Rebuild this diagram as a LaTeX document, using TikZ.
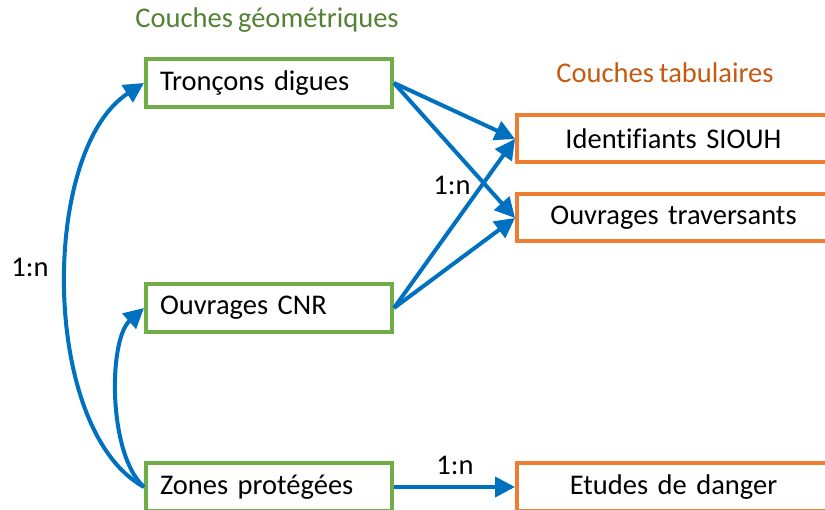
\documentclass[tikz,border=0pt]{standalone}
\usepackage{fontspec}
\setmainfont{Carlito}[Ligatures={NoCommon},WordSpace={0.8}]
\usetikzlibrary{calc,shapes,arrows.meta}
\definecolor{geogreen}{HTML}{70AD47}
\definecolor{geotitle}{HTML}{548235}
\definecolor{taborange}{HTML}{ED7D31}
\definecolor{tabtitle}{HTML}{C55A11}
\definecolor{linkblue}{HTML}{0070C0}

\begin{document}
\begin{tikzpicture}[x=1pt,y=-1pt,
  every node/.style={font=\fontsize{28.5}{33}\selectfont},
  geobox/.style={draw=geogreen,line width=4pt,minimum width=246pt,minimum height=48pt,
    inner xsep=13pt,text width=218pt,align=left},
  tabbox/.style={draw=taborange,line width=4pt,minimum width=313pt,minimum height=47pt,
    text width=285pt,align=center},
  link/.style={draw=linkblue,line width=4pt,-{Triangle[length=20pt,width=20pt]}}]
\useasboundingbox (0,0) rectangle (825,510);
% titres
\node[text=geotitle] (geotitle) at (267,20) {Couches géométriques};
\node[text=tabtitle] (tabtitle) at (665,73) {Couches tabulaires};
% couches geometriques
\node[geobox] (troncons) at (269,83) {Tronçons digues};
\node[geobox] (ouvcnr) at (269,308) {Ouvrages CNR};
\node[geobox] (zones) at (269,487) {Zones protégées};
% couches tabulaires
\node[tabbox] (siouh) at (673.5,139) {Identifiants SIOUH};
\node[tabbox] (traversants) at (673.5,218) {Ouvrages traversants};
\node[tabbox] (edd) at (673.5,487) {Etudes de danger};
% liens
\draw[link] (troncons.east) -- (siouh.west);
\draw[link] (troncons.east) -- (traversants.west);
\draw[link] (ouvcnr.east) -- (siouh.west);
\draw[link] (ouvcnr.east) -- (traversants.west);
\draw[link] (zones.east) -- (edd.west);
\draw[link] (zones.west) .. controls (40,430) and (40,150) .. (troncons.west);
\draw[link] (zones.west) .. controls (108,455) and (108,340) .. (ouvcnr.west);
% cardinalites
\node (card1) at (452,185) {1:n};
\node (card2) at (30,267) {1:n};
\node (card3) at (455,465) {1:n};
\end{tikzpicture}
\end{document}
